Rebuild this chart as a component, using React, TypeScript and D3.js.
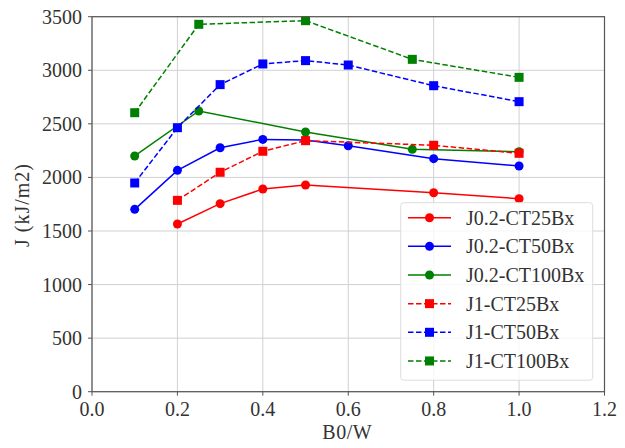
import React from "react";
import * as d3 from "d3";

const xTicks = [0.0, 0.2, 0.4, 0.6, 0.8, 1.0, 1.2];
const yTicks = [0, 500, 1000, 1500, 2000, 2500, 3000, 3500];

const x6 = [0.2, 0.3, 0.4, 0.5, 0.8, 1.0];
const x8 = [0.1, 0.2, 0.3, 0.4, 0.5, 0.6, 0.8, 1.0];
const x5 = [0.1, 0.25, 0.5, 0.75, 1.0];

const j02ct25 = [1565, 1755, 1892, 1929, 1857, 1801];
const j02ct50 = [1702, 2066, 2277, 2355, 2349, 2296, 2175, 2107];
const j02ct100 = [2200, 2620, 2424, 2262, 2240];
const j1ct25 = [1786, 2048, 2244, 2343, 2300, 2225];
const j1ct50 = [1948, 2464, 2866, 3059, 3090, 3049, 2856, 2707];
const j1ct100 = [2604, 3429, 3463, 3102, 2934];

const seriesNames = ["J0.2-CT25Bx", "J0.2-CT50Bx", "J0.2-CT100Bx", "J1-CT25Bx", "J1-CT50Bx", "J1-CT100Bx"];

const series = [
  { name: seriesNames[0], xs: x6, ys: j02ct25, color: "#ff0000", dashed: false },
  { name: seriesNames[1], xs: x8, ys: j02ct50, color: "#0000ff", dashed: false },
  { name: seriesNames[2], xs: x5, ys: j02ct100, color: "#008000", dashed: false },
  { name: seriesNames[3], xs: x6, ys: j1ct25, color: "#ff0000", dashed: true },
  { name: seriesNames[4], xs: x8, ys: j1ct50, color: "#0000ff", dashed: true },
  { name: seriesNames[5], xs: x5, ys: j1ct100, color: "#008000", dashed: true },
];

const W = 625, H = 448;
const L = 92, R = 604.5, T = 16.7, B = 391.7;
const FS = 20;
const textStyle: React.CSSProperties = { fontFamily: '"Liberation Serif", "Times New Roman", serif', fontSize: FS };

export default function App() {
  const x = d3.scaleLinear().domain([0, 1.2]).range([L, R]);
  const y = d3.scaleLinear().domain([0, 3500]).range([B, T]);
  const line = d3.line<[number, number]>().x(d => x(d[0])).y(d => y(d[1]));

  const legX = 400.7, legY = 202.7, legW = 192, legH = 177.5;
  const rowY0 = 217.7, rowDy = 28.65;

  const marker = (s: any, cx: number, cy: number, key: any) =>
    s.dashed ? (
      <rect key={key} x={cx - 4.5} y={cy - 4.5} width={9} height={9} fill={s.color} />
    ) : (
      <circle key={key} cx={cx} cy={cy} r={4.5} fill={s.color} />
    );

  return (
    <svg width={W} height={H} style={{ position: "absolute", left: 0, top: 0 }}>
      <rect x={0} y={0} width={W} height={H} fill="#fff" />
      {xTicks.map(t => (
        <line key={"gx" + t} x1={x(t)} x2={x(t)} y1={T} y2={B} stroke="#d0d0d0" strokeWidth={1} />
      ))}
      {yTicks.map(t => (
        <line key={"gy" + t} x1={L} x2={R} y1={y(t)} y2={y(t)} stroke="#d0d0d0" strokeWidth={1} />
      ))}
      {series.map((s, i) => {
        const pts = s.xs.map((xv, k) => [xv, s.ys[k]] as [number, number]);
        return (
          <g key={"s" + i}>
            <path d={line(pts) || ""} fill="none" stroke={s.color} strokeWidth={1.5}
              strokeDasharray={s.dashed ? "5.5,2.5" : undefined} />
            {pts.map((p, k) => marker(s, x(p[0]), y(p[1]), k))}
          </g>
        );
      })}
      <rect x={L} y={T} width={R - L} height={B - T} fill="none" stroke="#555" strokeWidth={1.2} />
      {xTicks.map(t => (
        <g key={"tx" + t}>
          <line x1={x(t)} x2={x(t)} y1={B} y2={B + 4} stroke="#555" strokeWidth={1} />
          <text x={x(t)} y={416} textAnchor="middle" style={textStyle} fill="#333">
            {t.toFixed(1)}
          </text>
        </g>
      ))}
      {yTicks.map(t => (
        <g key={"ty" + t}>
          <line x1={L - 4} x2={L} y1={y(t)} y2={y(t)} stroke="#555" strokeWidth={1} />
          <text x={82} y={y(t) + 7} textAnchor="end" style={textStyle} fill="#333">
            {t}
          </text>
        </g>
      ))}
      <text x={(L + R) / 2 - 1} y={439} textAnchor="middle" style={textStyle} fill="#333" letterSpacing={0.5}>B0/W</text>
      <text transform={`translate(29,205) rotate(-90)`} textAnchor="middle" style={textStyle} fill="#333" letterSpacing={1}>
        J (kJ/m2)
      </text>
      <rect x={legX} y={legY} width={legW} height={legH} rx={3} fill="#fff" fillOpacity={0.8} stroke="#ddd" strokeWidth={1} />
      {series.map((s, i) => {
        const cy = rowY0 + i * rowDy;
        return (
          <g key={"lg" + i}>
            <line x1={408} x2={451} y1={cy} y2={cy} stroke={s.color} strokeWidth={1.5}
              strokeDasharray={s.dashed ? "5.5,2.5" : undefined} />
            {marker(s, 429.5, cy, "m")}
            <text x={466} y={cy + 7} style={textStyle} fill="#333">{s.name}</text>
          </g>
        );
      })}
    </svg>
  );
}
